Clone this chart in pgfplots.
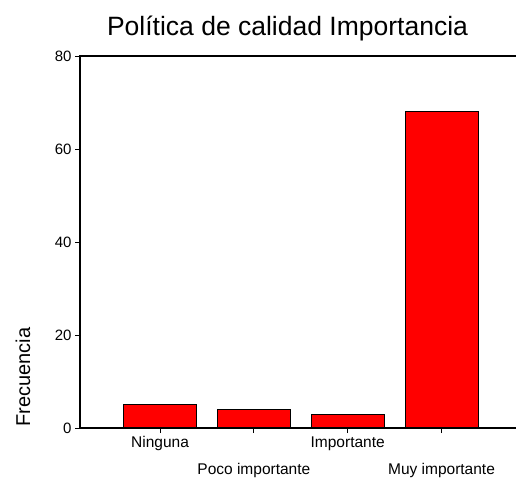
\documentclass[border=0pt]{standalone}
\usepackage{pgfplots}
\pgfplotsset{compat=1.18}
\usepackage{fontspec}
\setmainfont{Liberation Sans}
\begin{document}
\begin{tikzpicture}
\useasboundingbox (0,0) rectangle (516pt,480pt);
\begin{axis}[
  at={(80pt,52pt)}, anchor=south west,
  scale only axis, width=436pt, height=372pt,
  xmin=-0.853, xmax=3.794, ymin=0, ymax=80,
  axis line style={draw=none},
  clip=false,
  ybar, bar width=73pt,
  ytick={0,20,40,60,80},
  xtick={0,2}, xticklabels={Ninguna,Importante},
  extra x ticks={1,3},
  extra x tick labels={Poco importante,Muy importante},
  extra x tick style={xticklabel style={yshift=-27pt}},
  xtick pos=bottom, ytick pos=left,
  tick align=outside, major tick length=5pt,
  tick style={black, line width=1pt},
  xticklabel style={font=\fontsize{15.5}{18}\selectfont, anchor=north},
  yticklabel style={font=\fontsize{15}{18}\selectfont},
  /pgf/number format/assume math mode=true,
]
\addplot[fill=red, draw=black, line width=1pt] coordinates {(0,5) (1,4) (2,3) (3,68)};
\draw[line width=1.2pt] (rel axis cs:1,1) -- (rel axis cs:0,1) -- (rel axis cs:0,0) -- (rel axis cs:1,0);
\end{axis}
\node[font=\fontsize{26.5}{30}\selectfont, anchor=base] at (287.5pt,444pt) {Política de calidad Importancia};
\node[font=\fontsize{20}{24}\selectfont, rotate=90, anchor=center] at (23pt,103pt) {Frecuencia};
\end{tikzpicture}
\end{document}
